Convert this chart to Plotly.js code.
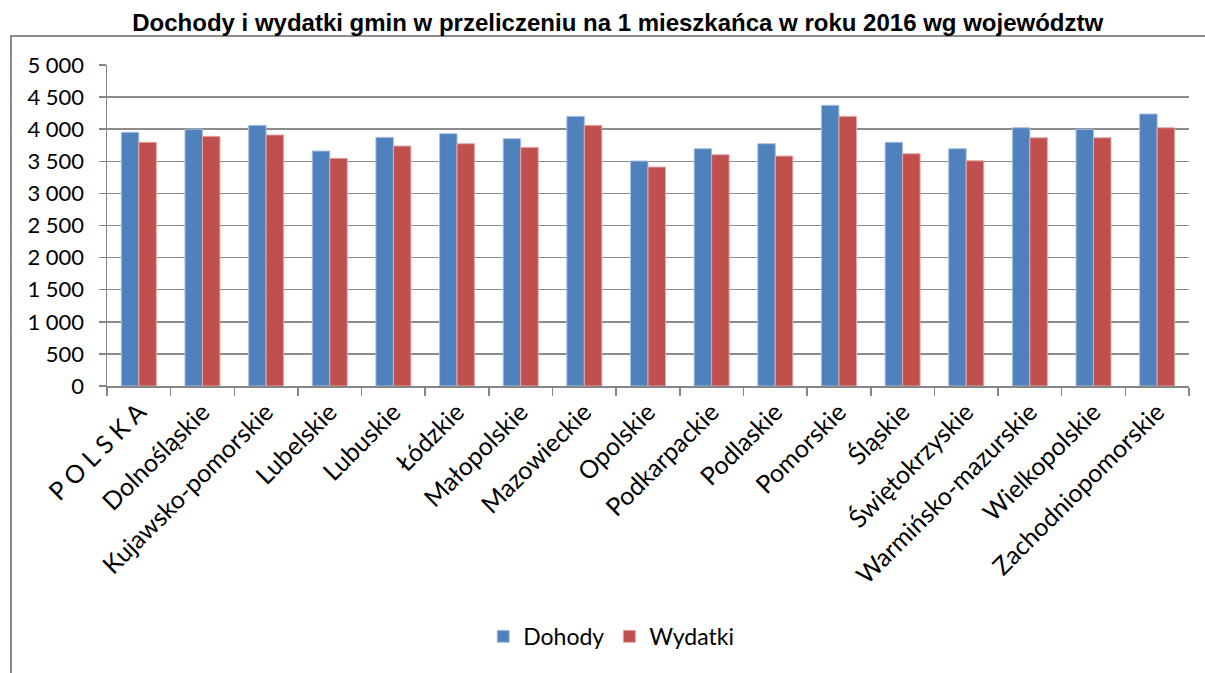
<!DOCTYPE html>
<html>
<head>
<meta charset="utf-8">
<script src="https://cdn.plot.ly/plotly-3.0.1.min.js"></script>
<style>
html,body{margin:0;padding:0;background:#fff;}
#frame{position:absolute;left:10px;top:35px;width:1210px;height:660px;border:2px solid #8c8c8c;box-sizing:border-box;}
#chart{position:absolute;left:0;top:0;width:1205px;height:673px;}
</style>
</head>
<body>
<div id="frame"></div>
<div id="chart"></div>
<script>
const categories = ["P O L S K A","Dolnośląskie","Kujawsko-pomorskie","Lubelskie","Lubuskie","Łódzkie","Małopolskie","Mazowieckie","Opolskie","Podkarpackie","Podlaskie","Pomorskie","Śląskie","Świętokrzyskie","Warmińsko-mazurskie","Wielkopolskie","Zachodniopomorskie"];
const dochody = [3952,4000,4060,3660,3873,3930,3852,4200,3505,3696,3774,4372,3796,3696,4023,3998,4237];
const wydatki = [3796,3889,3910,3546,3738,3774,3717,4060,3411,3602,3582,4200,3618,3509,3867,3867,4023];
const yTicks = [0,500,1000,1500,2000,2500,3000,3500,4000,4500,5000];

const font = "Lato, 'Open Sans', sans-serif";
const traces = [
  {type:'bar', name:'Dohody', x:categories, y:dochody,
   marker:{color:'#4F81BD', line:{color:'#A9C0E0', width:1}}},
  {type:'bar', name:'Wydatki', x:categories, y:wydatki,
   marker:{color:'#C0504D', line:{color:'#E3A9A7', width:1}}}
];
const layout = {
  width:1205, height:673,
  paper_bgcolor:'rgba(0,0,0,0)', plot_bgcolor:'rgba(0,0,0,0)',
  margin:{l:107, r:16, t:65, b:287},
  separators:', ',
  title:{text:'<b>Dochody i wydatki gmin w przeliczeniu na 1 mieszkańca w roku 2016 wg województw</b>',
         font:{family:"'Liberation Sans', Arial, sans-serif", size:24, color:'#000'},
         x:0.472, xanchor:'center', y:0.967, yanchor:'middle', xref:'paper', yref:'container'},
  barmode:'group', bargap:0.45, bargroupgap:0,
  showlegend:true,
  legend:{orientation:'h', x:0.466, xanchor:'center', y:-0.78, yanchor:'middle',
          font:{family:font, size:23, color:'#000'}, itemwidth:30, traceorder:'normal'},
  xaxis:{type:'category', tickangle:-45, tickson:'boundaries', ticks:'outside', ticklen:8,
         tickcolor:'#868686', tickwidth:1.5, showline:true, linecolor:'#868686', linewidth:1.5,
         tickfont:{family:font, size:25, color:'#000'}, showgrid:false, fixedrange:true},
  yaxis:{range:[0,5000], tickvals:yTicks, tickformat:',d', ticks:'outside', ticklen:7,
         tickcolor:'#868686', tickwidth:1.5, showline:true, linecolor:'#868686', linewidth:1.5,
         showgrid:true, gridcolor:'#8c8c8c', gridwidth:1.5, zeroline:false, ticklabelstandoff:10,
         tickfont:{family:font, size:22, color:'#000'}, fixedrange:true}
};
Plotly.newPlot('chart', traces, layout, {displayModeBar:false, staticPlot:true});
</script>
</body>
</html>
